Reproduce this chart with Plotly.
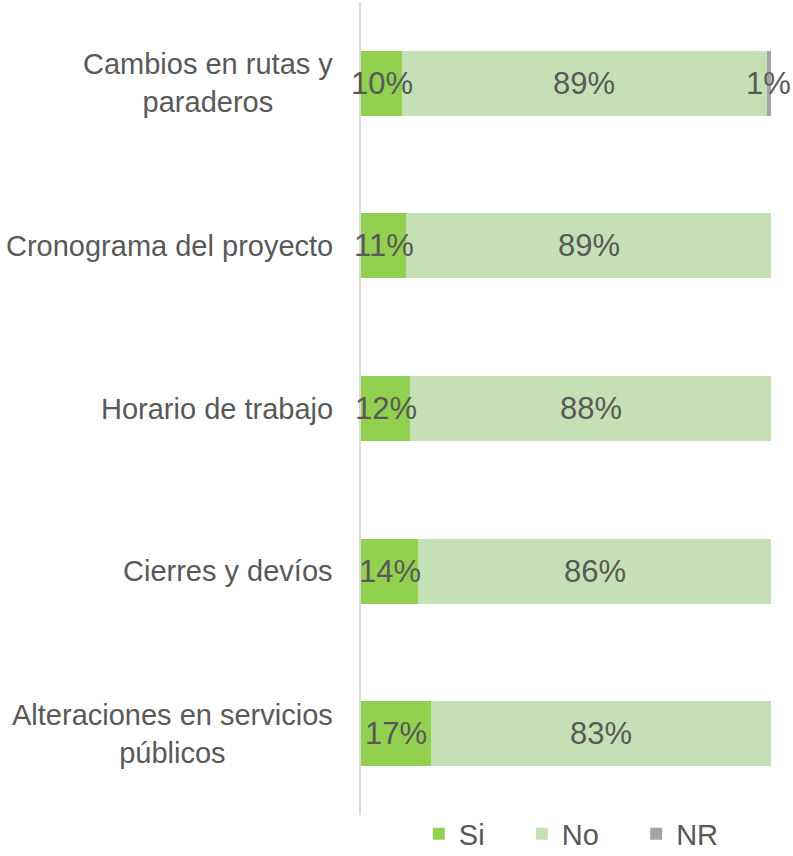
import plotly.graph_objects as go

categories = ["Cambios en rutas y<br>paraderos", "Cronograma del proyecto", "Horario de trabajo",
              "Cierres y devíos", "Alteraciones en servicios<br>públicos"]
si = [10, 11, 12, 14, 17]
no = [89, 89, 88, 86, 83]
nr = [1, 0, 0, 0, 0]

NB = "\u00a0" * 4
series = [("Si", si, "#92D050", "Si" + NB), ("No", no, "#C5E0B4", "No" + NB), ("NR", nr, "#A5A5A5", "NR")]
FONT = "Liberation Sans, Arial, sans-serif"
TXT = "#595959"

fig = go.Figure()
for name, vals, col, lname in series:
    fig.add_trace(go.Bar(y=categories, x=vals, name=lname, orientation="h",
                         marker=dict(color=col, line=dict(width=0)),
                         hoverinfo="skip"))

# data labels centered in each segment
for i, cat in enumerate(categories):
    cum = 0
    for name, vals, col, lname in series:
        v = vals[i]
        if v > 0:
            fig.add_annotation(x=cum + v / 2, xref="x", y=cat, yref="y", text=f"{v}%",
                               showarrow=False, xanchor="center", yanchor="middle",
                               font=dict(family=FONT, size=31, color=TXT))
        cum += v

for cat in categories:
    fig.add_annotation(x=0, xref="paper", y=cat, yref="y", text=cat, showarrow=False,
                       xanchor="right", yanchor="middle", align="center", xshift=-26,
                       font=dict(family=FONT, size=29, color=TXT))

fig.update_layout(
    width=793, height=856,
    margin=dict(l=361, r=22, t=2, b=41, autoexpand=False),
    barmode="stack", bargap=0.6,
    plot_bgcolor="white", paper_bgcolor="white",
    font=dict(family=FONT, size=29, color=TXT),
    legend=dict(orientation="h", x=0.141, xanchor="left", y=0.008, yanchor="top",
                font=dict(family=FONT, size=29, color=TXT), traceorder="normal",
                bgcolor="rgba(0,0,0,0)"),
    showlegend=True,
)
fig.update_xaxes(range=[0, 100], visible=False, fixedrange=True)
fig.update_yaxes(autorange="reversed", showticklabels=False, showgrid=False,
                 showline=True, linecolor="#D9D9D9", linewidth=1.5, ticks="", zeroline=False)

fig.write_html("out.html", config={"displayModeBar": False},
               post_script="document.body.style.margin='0';")
